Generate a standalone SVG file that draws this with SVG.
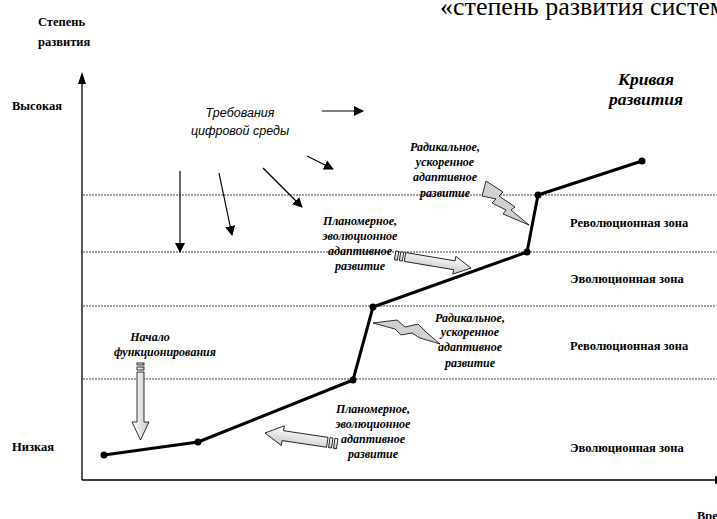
<svg xmlns="http://www.w3.org/2000/svg" width="717" height="519" viewBox="0 0 717 519">
<style>
.ax{stroke:#000;stroke-width:1.3;fill:none}
.dot{stroke:#444;stroke-width:1;stroke-dasharray:2,1;fill:none}
.curve{stroke:#000;stroke-width:3;fill:none;stroke-linejoin:round}
.pt{fill:#000}
.thin{stroke:#000;stroke-width:1.2;fill:none}
.axl{font-family:"Liberation Serif","Times New Roman",serif;font-weight:bold;font-size:12.5px;fill:#000}
.zone{font-family:"Liberation Serif","Times New Roman",serif;font-weight:bold;font-size:12.5px;fill:#000}
.it{font-family:"Liberation Serif","Times New Roman",serif;font-style:italic;font-weight:bold;font-size:12px;fill:#000;text-anchor:middle}
.req{font-family:"Liberation Sans",Arial,sans-serif;font-style:italic;font-size:12.5px;fill:#000;text-anchor:middle}
.big{font-family:"Liberation Serif","Times New Roman",serif;font-style:italic;font-weight:bold;font-size:17.5px;fill:#000;text-anchor:middle}
.title{font-family:"Liberation Serif","Times New Roman",serif;font-size:26px;fill:#000}
.bolt{fill:#d0d0d0;stroke:#000;stroke-width:0.8;stroke-linejoin:miter}
.blk{fill:url(#g);stroke:#000;stroke-width:0.8}
</style>
<defs>
<linearGradient id="g" x1="0" y1="0" x2="0" y2="1">
<stop offset="0" stop-color="#ffffff"/>
<stop offset="1" stop-color="#c8c8c8"/>
</linearGradient>
<linearGradient id="gv" x1="0" y1="0" x2="1" y2="0">
<stop offset="0" stop-color="#ffffff"/>
<stop offset="1" stop-color="#c8c8c8"/>
</linearGradient>
<marker id="ah2" viewBox="0 0 10 10" refX="9" refY="5" markerWidth="10" markerHeight="10" orient="auto" markerUnits="userSpaceOnUse">
<path d="M0,0 L10,5 L0,10 z" fill="#000"/>
</marker>
</defs>

<text class="title" x="440" y="15">«степень развития системы</text>

<g id="axes">
<line class="ax" x1="82" y1="480" x2="82" y2="82"/>
<polygon points="82,72 78,84 86,84" fill="#000"/>
<line class="ax" x1="82" y1="480" x2="715" y2="480"/>
<polygon points="715,476 715,484 727,480" fill="#000"/>
<text class="axl" x="38" y="26">Степень</text>
<text class="axl" x="38" y="46">развития</text>
<text class="axl" x="12" y="110">Высокая</text>
<text class="axl" x="12" y="451">Низкая</text>
<text class="axl" x="697" y="520">Время</text>
</g>

<g id="zones">
<line class="dot" x1="83" y1="195" x2="717" y2="195"/>
<line class="dot" x1="83" y1="252" x2="717" y2="252"/>
<line class="dot" x1="83" y1="306" x2="717" y2="306"/>
<line class="dot" x1="83" y1="379" x2="717" y2="379"/>
<text class="zone" x="570" y="227">Революционная зона</text>
<text class="zone" x="570" y="283">Эволюционная зона</text>
<text class="zone" x="570" y="350">Революционная зона</text>
<text class="zone" x="570" y="452">Эволюционная зона</text>
</g>

<g id="curve">
<polyline class="curve" points="104,455 198,442 353,380 373,307 527,252 538,195 642,161"/>
<circle class="pt" cx="104" cy="455" r="3.5"/>
<circle class="pt" cx="198" cy="442" r="3.5"/>
<circle class="pt" cx="353" cy="380" r="3.5"/>
<circle class="pt" cx="373" cy="307" r="3.5"/>
<circle class="pt" cx="527" cy="252" r="3.5"/>
<circle class="pt" cx="538" cy="195" r="3.5"/>
<circle class="pt" cx="642" cy="161" r="3.5"/>
<text class="big" x="646" y="85">Кривая</text>
<text class="big" x="646" y="105">развития</text>
</g>

<g id="requirements">
<text class="req" x="240" y="117">Требования</text>
<text class="req" x="240" y="135">цифровой среды</text>
<line class="thin" x1="322" y1="111" x2="363" y2="111" marker-end="url(#ah2)"/>
<line class="thin" x1="307" y1="156" x2="333" y2="169" marker-end="url(#ah2)"/>
<line class="thin" x1="263" y1="168" x2="302" y2="207" marker-end="url(#ah2)"/>
<line class="thin" x1="219" y1="173" x2="232" y2="235" marker-end="url(#ah2)"/>
<line class="thin" x1="180" y1="171" x2="180" y2="252" marker-end="url(#ah2)"/>
</g>

<g id="radical-top">
<text class="it" x="445" y="151">Радикальное,</text>
<text class="it" x="445" y="166">ускоренное</text>
<text class="it" x="445" y="181">адаптивное</text>
<text class="it" x="445" y="197">развитие</text>
<polygon class="bolt" points="486,181 503,192 499,196 515,207 511,210 529,225 503,214 506,210 492,203 496,199 482,196"/>
</g>

<g id="planned-top">
<text class="it" x="360" y="225">Планомерное,</text>
<text class="it" x="360" y="240">эволюционное</text>
<text class="it" x="360" y="255">адаптивное</text>
<text class="it" x="360" y="270">развитие</text>
<g transform="translate(405,257) rotate(9.5)">
<rect class="blk" x="-10" y="-4.5" width="3" height="9"/>
<rect class="blk" x="-5" y="-4.5" width="3" height="9"/>
<polygon class="blk" points="0,-4.5 50,-4.5 50,-9 67,0 50,9 50,4.5 0,4.5"/>
</g>
</g>

<g id="radical-mid">
<text class="it" x="470" y="322">Радикальное,</text>
<text class="it" x="470" y="336">ускоренное</text>
<text class="it" x="470" y="351">адаптивное</text>
<text class="it" x="470" y="367">развитие</text>
<polygon class="bolt" points="373,323 397,320 405,327 418,324 426,332 440,344 420,338 412,333 401,335 395,329"/>
</g>

<g id="start">
<text class="it" x="150" y="341">Начало</text>
<text class="it" x="165" y="356">функционирования</text>
<rect x="137" y="363" width="7" height="2" fill="url(#gv)" stroke="#000" stroke-width="0.8"/>
<rect x="137" y="367" width="7" height="3" fill="url(#gv)" stroke="#000" stroke-width="0.8"/>
<polygon points="137,372 144,372 144,422 149,422 140.5,440 132,422 137,422" fill="url(#gv)" stroke="#000" stroke-width="0.8"/>
</g>

<g id="planned-bottom">
<text class="it" x="373" y="413">Планомерное,</text>
<text class="it" x="373" y="428">эволюционное</text>
<text class="it" x="373" y="443">адаптивное</text>
<text class="it" x="373" y="458">развитие</text>
<g transform="translate(265,433) rotate(8.5)">
<polygon class="blk" points="0,0 18,-10 18,-5 63,-5 63,5 18,5 18,10"/>
<rect class="blk" x="65" y="-5" width="3" height="10"/>
<rect class="blk" x="70" y="-5" width="3" height="10"/>
</g>
</g>
</svg>
